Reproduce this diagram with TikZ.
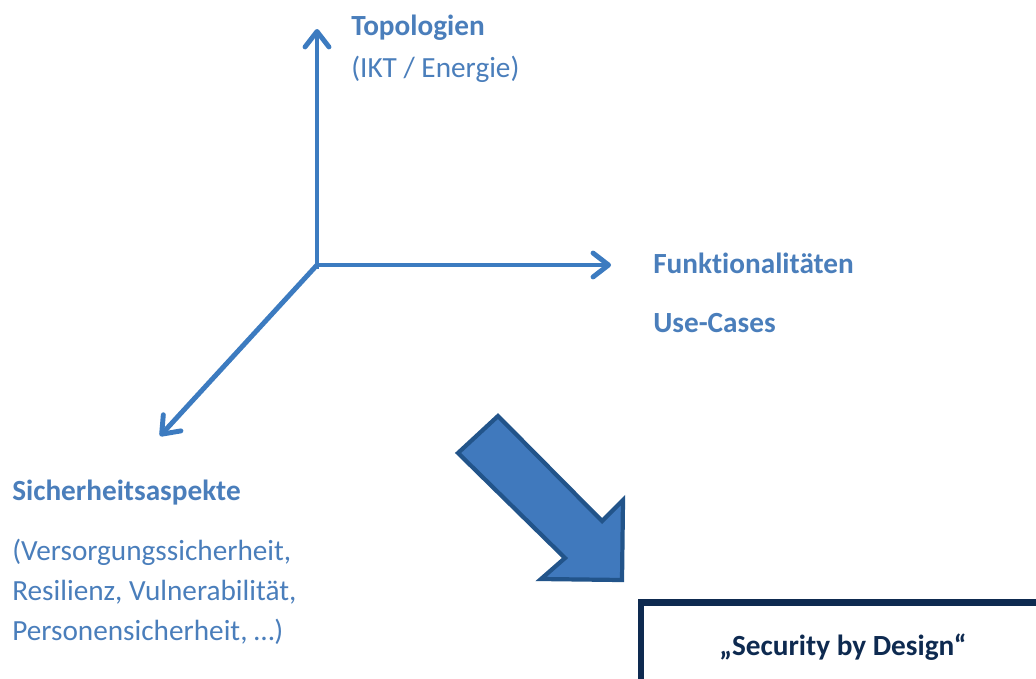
\documentclass[tikz,border=0pt]{standalone}
\usepackage{fontspec}
\setmainfont{Carlito}[Ligatures=NoCommon]
\usepackage{tikz}
\usetikzlibrary{arrows.meta, positioning}
\usepackage{xcolor}
\definecolor{axisblue}{HTML}{3C7BC0}
\definecolor{labelblue}{HTML}{4A7EBB}
\definecolor{arrowfill}{HTML}{4079BD}
\definecolor{arrowedge}{HTML}{22548A}
\definecolor{navyblue}{HTML}{0E2A50}

\begin{document}
\begin{tikzpicture}[
  font=\fontsize{20.8pt}{28.4pt}\selectfont,
  x=0.025cm, y=-0.025cm,
  axis/.style={draw=axisblue, line width=3.5pt, -{Straight Barb[round, length=11pt, width=17pt]}},
  title/.style={text=labelblue, font=\fontsize{20.8pt}{28.4pt}\selectfont\bfseries, anchor=base west, inner sep=0pt},
  sub/.style={text=labelblue, anchor=base west, inner sep=0pt, align=left},
  bigarrow/.style={draw=arrowedge, fill=arrowfill, line width=3pt, line join=miter},
  result/.style={draw=navyblue, line width=4.3pt, text=navyblue, font=\fontsize{20.8pt}{28.4pt}\selectfont\bfseries,
    minimum width=10.1cm, minimum height=2.225cm}
]
\clip (0,0) rectangle (1036,678);

% Achsen
\coordinate (origin) at (317,265);
\coordinate (axisFoot) at (317,269);
\coordinate (topTip)   at (317,29);
\coordinate (rightTip) at (611,265);
\coordinate (diagTip)  at (160,436);
\draw[axis] (axisFoot) -- (topTip);
\draw[axis] (origin) -- (rightTip);
\draw[axis] (origin) -- (diagTip);

% Beschriftungen
\node[title] (topo)    at (351,35)  {Topologien};
\node[sub]   (topoSub) at (351,77)  {(IKT / Energie)};
\node[title] (funk)    at (653,273) {Funktionalitäten};
\node[title] (usecase) at (653,332) {Use-Cases};
\node[title] (sich)    at (12,500)  {Sicherheitsaspekte};
\node[sub]   (sichSub) at (12,640)  {(Versorgungssicherheit,\\Resilienz, Vulnerabilität,\\Personensicherheit, …)};

% Blockpfeil
\draw[bigarrow] (458,453) -- (498,416) -- (602,521) -- (623,500) -- (622,580)
  -- (541,579) -- (565,558) -- cycle;

% Ergebnis
\node[result] (design) at (843,647) {„Security by Design“};
\end{tikzpicture}
\end{document}
